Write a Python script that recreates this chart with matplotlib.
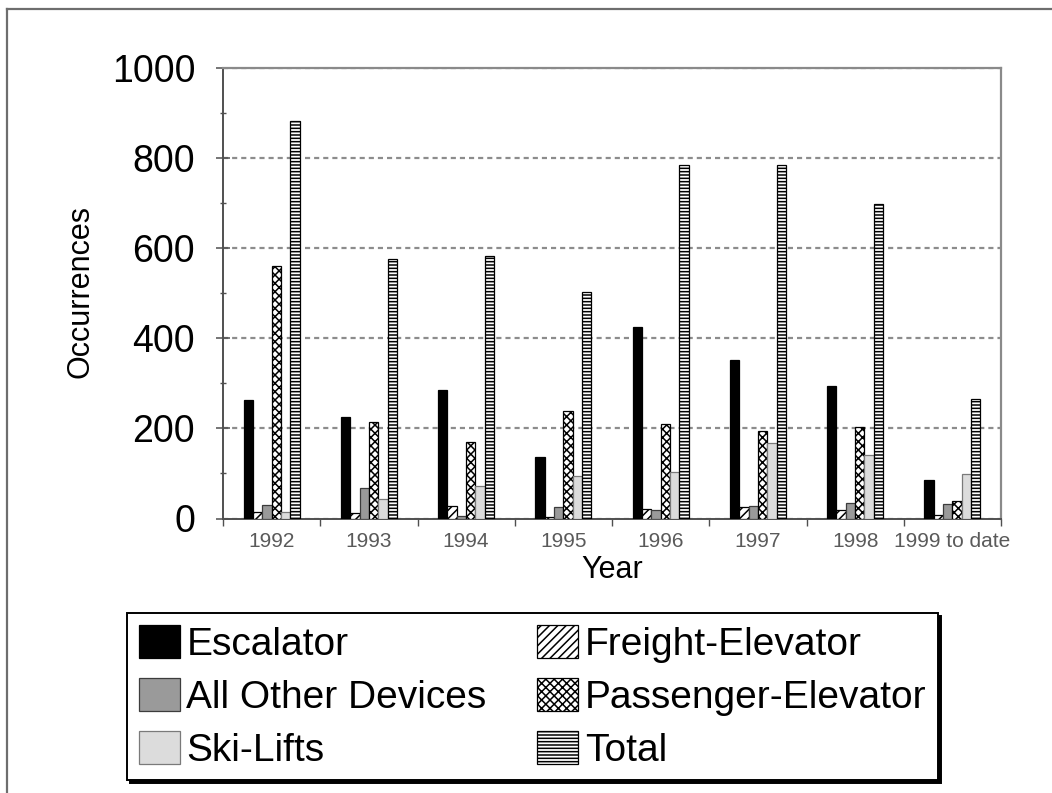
import matplotlib
matplotlib.use("Agg")
import matplotlib.pyplot as plt
import numpy as np
from matplotlib.lines import Line2D
from matplotlib.ticker import FixedLocator, MultipleLocator

plt.rcParams["font.family"] = ["Liberation Sans", "DejaVu Sans"]
plt.rcParams["hatch.linewidth"] = 1.1

# Occurrences per year and device type
years = ["1992", "1993", "1994", "1995", "1996", "1997", "1998", "1999 to date"]
escalator = [262, 225, 286, 136, 424, 351, 294, 85]
freight_elevator = [14, 12, 27, 3, 20, 25, 19, 8]
all_other_devices = [31, 68, 6, 25, 18, 27, 34, 33]
passenger_elevator = [559, 215, 169, 238, 209, 194, 202, 39]
ski_lifts = [14, 44, 73, 95, 104, 167, 140, 98]
total = [882, 575, 582, 502, 784, 784, 697, 264]

series_names = ["Escalator", "Freight-Elevator", "All Other Devices",
                "Passenger-Elevator", "Ski-Lifts", "Total"]
series_values = [escalator, freight_elevator, all_other_devices,
                 passenger_elevator, ski_lifts, total]

W, H = 1052, 793


def fx(px):
    return px / W


def fy(py):
    return 1 - py / H


fig = plt.figure(figsize=(W / 100, H / 100), dpi=100)
fig.patch.set_facecolor("white")

ax = fig.add_axes([fx(223), fy(518.5), fx(1001) - fx(223), fy(67.5) - fy(518.5)])

bar_styles = [
    dict(facecolor="black", edgecolor="black"),
    dict(facecolor="white", edgecolor="black", hatch="////"),
    dict(facecolor="#9a9a9a", edgecolor="#3c3c3c"),
    dict(facecolor="white", edgecolor="black", hatch="xxxx"),
    dict(facecolor="#dcdcdc", edgecolor="#7a7a7a"),
    dict(facecolor="white", edgecolor="black", hatch="-----"),
]

x = np.arange(len(years))
bw = 0.096
handles = []
for i, (name, vals, st) in enumerate(zip(series_names, series_values, bar_styles)):
    bars = ax.bar(x + (i - 2.5) * bw, vals, width=bw, linewidth=0.9,
                  zorder=3, label=name, **st)
    handles.append(bars)

ax.set_xlim(-0.5, len(years) - 0.5)
ax.set_ylim(0, 1000)

# y axis: major ticks crossing the axis, minor ticks in between
ax.yaxis.set_major_locator(FixedLocator([0, 200, 400, 600, 800, 1000]))
ax.yaxis.set_minor_locator(MultipleLocator(100))
ax.tick_params(axis="y", which="major", direction="inout", length=10, width=1.1,
               color="#505050", labelsize=27, pad=15)
ax.tick_params(axis="y", which="minor", direction="inout", length=5, width=1.0,
               color="#505050")

# x axis: labels centred on categories, tick marks on category boundaries
ax.set_xticks(x)
ax.set_xticklabels(years)
ax.xaxis.set_minor_locator(FixedLocator(np.arange(-0.5, len(years), 1.0)))
ax.tick_params(axis="x", which="major", length=0, labelsize=15,
               labelcolor="#5a5a5a", pad=9.5)
ax.tick_params(axis="x", which="minor", direction="out", length=5, width=1.0,
               color="#505050")

ax.yaxis.grid(True, which="major", color="#8c8c8c", linewidth=1.6,
              linestyle=(0, (2.3, 1.8)), zorder=1)
ax.set_axisbelow(True)

for side in ["left", "bottom"]:
    ax.spines[side].set_color("#505050")
    ax.spines[side].set_linewidth(1.4)
for side in ["top", "right"]:
    ax.spines[side].set_color("#8a8a8a")
    ax.spines[side].set_linewidth(1.6)

fig.text(fx(81), fy(291), "Occurrences", rotation=90, fontsize=22,
         ha="center", va="center")
fig.text(fx(612), fy(570), "Year", fontsize=22, ha="center", va="center")

# legend fills column-wise, so order handles to read across rows
order = [0, 2, 4, 1, 3, 5]
leg = fig.legend([handles[i] for i in order], [series_names[i] for i in order],
                 ncol=2, loc="upper left", bbox_to_anchor=(fx(127), fy(613)),
                 fontsize=28, frameon=True, fancybox=False,
                 shadow={"color": "black", "alpha": 1.0},
                 edgecolor="black", handlelength=1.05, handleheight=0.95,
                 handletextpad=0.18, columnspacing=1.3, labelspacing=0.38,
                 borderpad=0.3, borderaxespad=0)
leg.get_frame().set_linewidth(1.4)

# outer frame around the chart area
fig.add_artist(Line2D([fx(7), fx(7)], [fy(9), 0], transform=fig.transFigure,
                      color="#6e6e6e", linewidth=1.6))
fig.add_artist(Line2D([fx(7), 1], [fy(9), fy(9)], transform=fig.transFigure,
                      color="#6e6e6e", linewidth=1.6))

fig.savefig("out.png", dpi=100, facecolor="white")
